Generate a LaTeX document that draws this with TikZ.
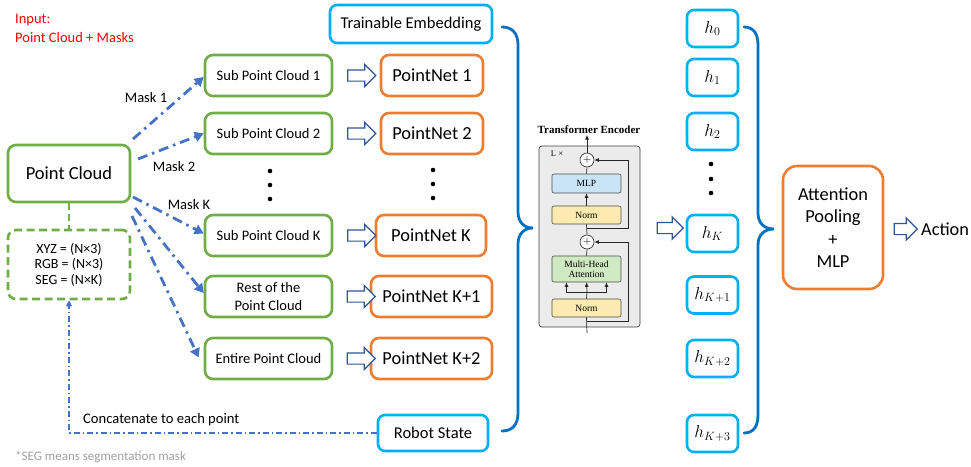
\documentclass[tikz,border=0pt]{standalone}
\usepackage{fontspec}
\setmainfont{Carlito}
\newfontfamily\tfont{Liberation Serif}
\usetikzlibrary{arrows.meta,shapes.arrows,calc}
\definecolor{cgreen}{HTML}{70AD47}
\definecolor{corange}{HTML}{ED7D31}
\definecolor{ccyan}{HTML}{00B0F0}
\definecolor{cbrace}{HTML}{0070C0}
\definecolor{cdash}{HTML}{4472C4}
\definecolor{carrow}{HTML}{2F5597}
\definecolor{cnote}{HTML}{A0A0A0}
\definecolor{tgrey}{HTML}{EBEBEB}
\definecolor{tblue}{HTML}{C9E4F6}
\definecolor{tyellow}{HTML}{FCEBB0}
\definecolor{tgreen}{HTML}{CFE9C3}
\begin{document}
\begin{tikzpicture}[x=1pt,y=-1pt,
  gbox/.style={draw=cgreen,line width=2.6pt,rounded corners=8pt,fill=white,minimum height=41pt,minimum width=127pt,inner sep=0pt,align=center,font=\fontsize{14.5}{18}\selectfont},
  obox/.style={draw=corange,line width=2.6pt,rounded corners=8pt,fill=white,minimum height=41pt,inner sep=0pt,align=center,font=\fontsize{18.4}{22.5}\selectfont},
  cbox/.style={draw=ccyan,line width=2.6pt,rounded corners=7pt,fill=white,inner sep=0pt,font=\fontsize{16.5}{20}\selectfont},
  hbox/.style={cbox,minimum width=51pt,minimum height=37pt,font=\fontsize{17}{20}\selectfont},
  harrow/.style={single arrow,draw=carrow,line width=1.2pt,fill=white,minimum height=28pt,inner xsep=0pt,inner ysep=5pt,single arrow head extend=5.5pt,single arrow head indent=0pt},
  mdash/.style={draw=cdash,line width=2.8pt,dash pattern=on 10pt off 5pt on 2.5pt off 5pt,-{Triangle[length=9pt,width=10pt]}},
  masklbl/.style={font=\fontsize{14.5}{17}\selectfont,inner sep=0pt},
  tbox/.style={draw=black!70,line width=0.6pt,rounded corners=2pt,minimum width=69pt,inner sep=0pt,align=center,font=\tfont\fontsize{9.5}{10.5}\selectfont},
  tline/.style={line width=0.7pt,draw=black!85},
  tarrow/.style={tline,-{Latex[length=4.5pt,width=4pt]}},
  brace/.style={draw=cbrace,line width=2.8pt,line cap=round}
]
\useasboundingbox (0,0) rectangle (971,466);

% red input text
\node[anchor=west,text=red,font=\fontsize{14.5}{17}\selectfont,inner sep=0pt] (in1) at (15,20) {Input:};
\node[anchor=west,text=red,font=\fontsize{14.5}{17}\selectfont,inner sep=0pt] (in2) at (15,38) {Point Cloud + Masks};

% point cloud
\node[gbox,minimum width=122pt,minimum height=57pt,font=\fontsize{18.5}{22}\selectfont] (pc) at (69,173.5) {Point Cloud};
\node[gbox,dash pattern=on 8pt off 4.5pt,minimum width=122pt,minimum height=69pt,font=\fontsize{14}{15.5}\selectfont] (xyz) at (69,264.5) {XYZ = (N×3)\\RGB = (N×3)\\SEG = (N×K)};
\draw[cgreen,line width=2.6pt,dash pattern=on 7pt off 4pt] (pc.south) -- (xyz.north);

% sub point clouds
\node[gbox] (sp1) at (268.5,75.5) {Sub Point Cloud 1};
\node[gbox] (sp2) at (268.5,133.5) {Sub Point Cloud 2};
\node[gbox] (spk) at (268.5,235.5) {Sub Point Cloud K};
\node[gbox] (rest) at (268.5,296.5) {Rest of the\\Point Cloud};
\node[gbox] (ent) at (268.5,358.5) {Entire Point Cloud};
\foreach \yy in {171,185,199} \fill (270,\yy) circle (2.3pt);

% pointnets
\node[obox,minimum width=102pt] (pn1) at (432,75.5) {PointNet 1};
\node[obox,minimum width=102pt] (pn2) at (432,133.5) {PointNet 2};
\node[obox,minimum width=110pt] (pnk) at (431,235.5) {PointNet K};
\node[obox,minimum width=121pt] (pnk1) at (431.5,296.5) {PointNet K+1};
\node[obox,minimum width=121pt] (pnk2) at (431.5,358.5) {PointNet K+2};
\foreach \yy in {170,184,198} \fill (433,\yy) circle (2.3pt);

% hollow arrows
\node[harrow] (a1) at (359,75.5) {};
\node[harrow] (a2) at (359,133.5) {};
\node[harrow] (a3) at (359,235.5) {};
\node[harrow] (a4) at (358.5,296.5) {};
\node[harrow] (a5) at (358.5,358.5) {};

% embedding / robot state
\node[cbox,minimum width=162pt,minimum height=38pt] (te) at (411,24) {Trainable Embedding};
\node[cbox,minimum width=110pt,minimum height=36pt] (rs) at (433,433) {Robot State};

% dashed mask arrows
\coordinate (s1) at (133,139);
\coordinate (s2) at (138,159);
\coordinate (s3) at (133,197);
\coordinate (s4) at (135,208);
\coordinate (s5) at (132,216);
\draw[mdash] (s1) -- ($(sp1.west)+(0,1.5)$);
\draw[mdash] (s2) -- (sp2.west);
\draw[mdash] (s3) -- ($(spk.west)+(0,-2)$);
\draw[mdash] (s4) -- ($(rest.west)+(0,-3.5)$);
\draw[mdash] (s5) -- ($(ent.west)+(-5,-1)$);
\node[masklbl] (m1) at (146,98) {Mask 1};
\node[masklbl] (m2) at (174,167) {Mask 2};
\node[masklbl] (mk) at (189,205) {Mask K};

% concatenate
\draw[draw=cdash,line width=1.1pt,dash pattern=on 6pt off 3pt on 1.5pt off 3pt,-{Triangle[length=6pt,width=6pt]}] (rs.west) -| (xyz.south);
\node[anchor=west,font=\fontsize{14.6}{17}\selectfont,inner sep=0pt] (cat) at (83,420) {Concatenate to each point};
\node[anchor=west,text=cnote,font=\fontsize{13}{15}\selectfont,inner sep=0pt] (note) at (15,457) {*SEG means segmentation mask};

% brace 1
\draw[brace] (502,27) .. controls (512,27) and (518,33) .. (518,45) -- (518,212) .. controls (518,222) and (524,228) .. (533,228) .. controls (524,228) and (518,234) .. (518,244) -- (518,413) .. controls (518,425) and (512,431) .. (502,431);

% transformer encoder
\node[draw=black!75,fill=tgrey,rounded corners=3pt,minimum width=101pt,minimum height=181pt,line width=0.7pt,inner sep=0pt] (tenc) at (589.5,236.5) {};
\node[font=\tfont\bfseries\fontsize{11}{12}\selectfont,inner sep=0pt] (ttitle) at (589,130) {Transformer Encoder};
\node[font=\tfont\fontsize{8.5}{10}\selectfont,inner sep=0pt] (lx) at (557,154) {L ×};
\node[tbox,fill=tblue,minimum height=19pt] (mlp) at (586.5,183.5) {MLP};
\node[tbox,fill=tyellow,minimum height=18pt] (norm2) at (586.5,215) {Norm};
\node[tbox,fill=tgreen,minimum height=26pt] (mha) at (586.5,269) {Multi-Head\\Attention};
\node[tbox,fill=tyellow,minimum height=18pt] (norm1) at (586.5,308) {Norm};
\node[circle,draw=black!85,fill=white,minimum size=14pt,inner sep=0pt,line width=0.6pt,font=\fontsize{11}{11}\selectfont] (add1) at (587,160) {$+$};
\node[circle,draw=black!85,fill=white,minimum size=14pt,inner sep=0pt,line width=0.6pt,font=\fontsize{11}{11}\selectfont] (add2) at (587,242) {$+$};
\coordinate (tin) at (587,333);
\coordinate (b1) at (587,321);
\coordinate (b2) at (587,228);
\coordinate (sp) at (587,292);
\coordinate (tout) at (587,135);
\draw[tline] (tin) -- (norm1.south);
\draw[tarrow] (b1) -- (628,321) -- (628,242) -- (add2.east);
\draw[tline] (norm1.north) -- (sp);
\draw[tarrow] (sp) -- (mha.south);
\draw[tarrow] (sp) -| ($(mha.south)+(-20,0)$);
\draw[tarrow] (sp) -| ($(mha.south)+(20,0)$);
\draw[tline] (mha.north) -- (add2.south);
\draw[tline] (add2.north) -- (norm2.south);
\draw[tarrow] (b2) -- (628,228) -- (628,160) -- (add1.east);
\draw[tarrow] (norm2.north) -- (mlp.south);
\draw[tline] (mlp.north) -- (add1.south);
\draw[tarrow] (add1.north) -- (tout);

% arrow to h
\node[harrow,minimum height=26pt] (a6) at (667.5,228) {};

% h boxes
\node[hbox] (h0) at (712.5,28.5) {$h_0$};
\node[hbox] (h1) at (712.5,77.5) {$h_1$};
\node[hbox] (h2) at (712.5,131.5) {$h_2$};
\node[hbox] (hk) at (712.5,233.5) {$h_K$};
\node[hbox] (hk1) at (712.5,295) {$h_{K+1}$};
\node[hbox] (hk2) at (712.5,358.5) {$h_{K+2}$};
\node[hbox] (hk3) at (712.5,433.5) {$h_{K+3}$};
\foreach \yy in {164,179,193} \fill (711,\yy) circle (2.3pt);

% brace 2
\draw[brace] (744,27) .. controls (753,27) and (758,33) .. (758,45) -- (758,213) .. controls (758,223) and (764,229) .. (774,229) .. controls (764,229) and (758,235) .. (758,245) -- (758,415) .. controls (758,427) and (753,433) .. (744,433);

% attention pooling
\node[obox,minimum width=100pt,minimum height=123pt,rounded corners=14pt] (attn) at (833,227.5) {Attention\\Pooling\\+\\MLP};
\node[harrow,minimum height=23pt] (a7) at (903,229) {};
\node[anchor=west,font=\fontsize{18.3}{22}\selectfont,inner sep=0pt] (act) at (921,229) {Action};
\end{tikzpicture}
\end{document}
